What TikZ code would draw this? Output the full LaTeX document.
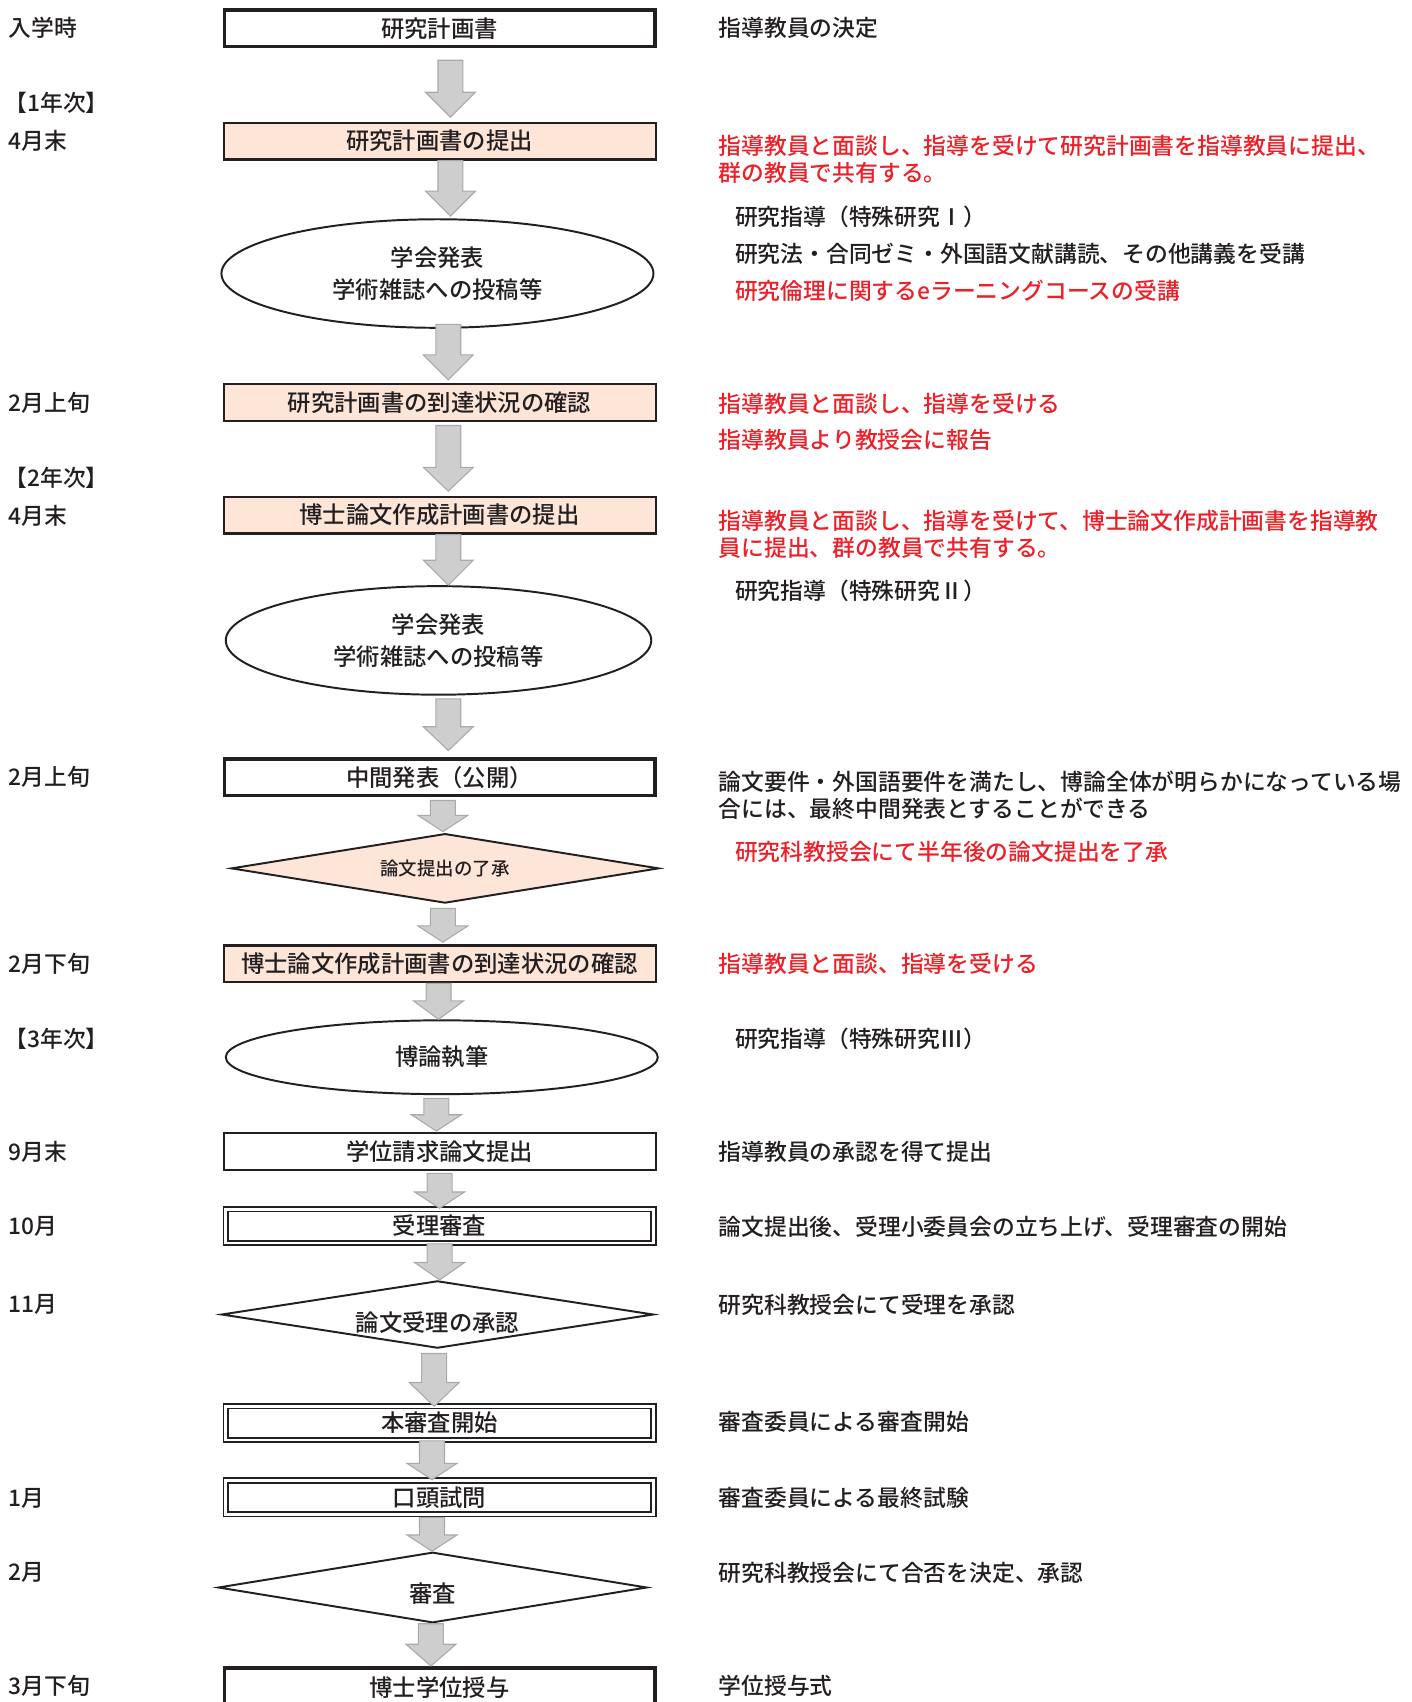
\documentclass[tikz,border=0pt]{standalone}
\usepackage{fontspec}
\setmainfont{Noto Sans CJK JP}[UprightFont=* Medium]
\usetikzlibrary{shapes.geometric,calc}
\definecolor{jred}{RGB}{236,32,40}
\definecolor{peach}{RGB}{253,229,216}
\definecolor{agray}{RGB}{206,206,206}
\definecolor{aline}{RGB}{170,170,170}
\definecolor{ink}{RGB}{35,31,32}
\newcommand\garrow[6]{% from, to, x centre, gap below source, gap above target, head length
  \filldraw[garrowsty] let \p1=(#1.south), \p2=(#2.north),
     \n1={\y1-1pt*(#4)}, \n2={\y2+1pt*(#5)}, \n3={\y2+1pt*(#5)+1pt*(#6)} in
   ({#3pt-11.5pt},\n1) -- ({#3pt+11.5pt},\n1)
   -- ({#3pt+11.5pt},\n3) -- ({#3pt+23pt},\n3)
   -- (#3pt,\n2) -- ({#3pt-23pt},\n3)
   -- ({#3pt-11.5pt},\n3) -- cycle;
}
\begin{document}
\begin{tikzpicture}[x=1pt,y=-1pt,
  every node/.style={text=ink,font=\fontsize{21}{25}\selectfont},
  flowtext/.style={font=\fontsize{21.5}{30}\selectfont,align=center},
  thickbox/.style={draw=ink,line width=3.4pt,fill=white,minimum width=396.6pt,minimum height=33.6pt,inner sep=0pt,flowtext},
  thinbox/.style={draw=ink,line width=2pt,fill=white,minimum width=398pt,minimum height=34pt,inner sep=0pt,flowtext},
  peachbox/.style={thinbox,fill=peach},
  dblbox/.style={draw=ink,double=white,double distance=2.6pt,line width=1.6pt,minimum width=394.2pt,minimum height=31.2pt,inner sep=0pt,flowtext},
  ell/.style={ellipse,draw=ink,line width=1.8pt,fill=white,minimum width=398pt,inner sep=0pt,flowtext},
  dia/.style={diamond,draw=ink,line width=1.8pt,fill=white,aspect=6,inner sep=0pt,minimum width=398pt,minimum height=62pt,flowtext},
  diatext/.style={flowtext,text=ink,inner sep=0pt},
  garrowsty/.style={fill=agray,draw=aline,line width=1pt},
  lab/.style={anchor=west,inner sep=0pt},
  note/.style={anchor=west,inner sep=0pt,align=left},
  rnote/.style={note,text=jred}]
\useasboundingbox (0,0) rectangle (1300,1568);
\fill[white] (0,0) rectangle (1300,1568);

% ---------- left column: dates ----------
\node[lab] (l1) at (8,26) {入学時};
\node[lab] (l2) at (4,95) {【1年次】};
\node[lab] (l3) at (8,130) {4月末};
\node[lab] (l4) at (8,371) {2月上旬};
\node[lab] (l5) at (4,440) {【2年次】};
\node[lab] (l6) at (8,475) {4月末};
\node[lab] (l7) at (8,716) {2月上旬};
\node[lab] (l8) at (8,888) {2月下旬};
\node[lab] (l9) at (4,957) {【3年次】};
\node[lab] (l10) at (8,1061) {9月末};
\node[lab] (l11) at (8,1130) {10月};
\node[lab] (l12) at (8,1202) {11月};
\node[lab] (l13) at (8,1380) {1月};
\node[lab] (l14) at (8,1449) {2月};
\node[lab] (l15) at (8,1553) {3月下旬};

% ---------- flow ----------
\node[thickbox] (b1) at (405,26) {研究計画書};
\node[peachbox] (b2) at (405,130) {研究計画書の提出};
\node[ell,minimum height=100pt] (e1) at (403,252) {学会発表\\学術雑誌への投稿等};
\node[peachbox] (b3) at (405,371) {研究計画書の到達状況の確認};
\node[peachbox] (b4) at (405,474.5) {博士論文作成計画書の提出};
\node[ell,minimum width=392pt,minimum height=100pt] (e2) at (404,590) {学会発表\\学術雑誌への投稿等};
\node[thickbox] (b5) at (405,716) {中間発表（公開）};
\node[dia,fill=peach,minimum width=394pt,minimum height=64pt] (d1) at (410,800) {\fontsize{17}{20}\selectfont 論文提出の了承};
\node[peachbox] (b6) at (405,888) {博士論文作成計画書の到達状況の確認};
\node[ell,minimum height=68pt] (e3) at (407,974) {博論執筆};
\node[thinbox] (b7) at (405,1061) {学位請求論文提出};
\node[dblbox] (b8) at (405,1129.5) {受理審査};
\node[dia,label={[diatext,yshift=-7pt]center:論文受理の承認}] (d2) at (403,1211) {};
\node[dblbox] (b9) at (405,1311) {本審査開始};
\node[dblbox] (b10) at (405,1379.5) {口頭試問};
\node[dia,minimum width=395pt,minimum height=65pt,label={[diatext,yshift=-6pt]center:審査}] (d3) at (398.5,1462.5) {};
\node[thickbox,minimum height=37pt] (b11) at (405,1555) {博士学位授与};

% ---------- block arrows ----------
\garrow{b1}{b2}{415}{11}{4}{23}
\garrow{b2}{e1}{415}{0}{2}{23}
\garrow{e1}{b3}{413}{-4}{3}{23}
\garrow{b3}{b4}{413}{3}{4}{22}
\garrow{b4}{e2}{413}{0}{0}{23}
\garrow{e2}{b5}{413}{3}{6}{22}
\garrow{b5}{d1}{408}{3}{1}{15}
\garrow{d1}{b6}{408}{4}{2}{15}
\garrow{b6}{e3}{404}{0}{0}{17}
\garrow{e3}{b7}{402}{3}{1}{15}
\garrow{b7}{b8}{405}{2}{0}{15}
\garrow{b8}{d2}{405}{0}{0}{16}
\garrow{d2}{b9}{400}{4}{-1}{22}
\garrow{b9}{b10}{398}{0}{0}{15}
\garrow{b10}{d3}{398}{2}{0}{15}
\garrow{d3}{b11}{397}{0}{0}{20}

% ---------- right column: notes ----------
\node[note] (n1) at (662,26) {指導教員の決定};
\node[rnote] (n2) at (662,146.5) {指導教員と面談し、指導を受けて研究計画書を指導教員に提出、\\群の教員で共有する。};
\node[note] (n3) at (677,200) {研究指導（特殊研究Ⅰ）};
\node[note] (n4) at (677,234) {研究法・合同ゼミ・外国語文献講読、その他講義を受講};
\node[rnote] (n5) at (677,268) {研究倫理に関するeラーニングコースの受講};
\node[rnote] (n6) at (662,372) {指導教員と面談し、指導を受ける};
\node[rnote] (n7) at (662,405) {指導教員より教授会に報告};
\node[rnote] (n8) at (662,492) {指導教員と面談し、指導を受けて、博士論文作成計画書を指導教\\員に提出、群の教員で共有する。};
\node[note] (n9) at (677,544) {研究指導（特殊研究Ⅱ）};
\node[note] (n10) at (662,733) {論文要件・外国語要件を満たし、博論全体が明らかになっている場\\合には、最終中間発表とすることができる};
\node[rnote] (n11) at (677,785) {研究科教授会にて半年後の論文提出を了承};
\node[rnote] (n12) at (662,888) {指導教員と面談、指導を受ける};
\node[note] (n13) at (677,957) {研究指導（特殊研究Ⅲ）};
\node[note] (n14) at (662,1061) {指導教員の承認を得て提出};
\node[note] (n15) at (662,1130) {論文提出後、受理小委員会の立ち上げ、受理審査の開始};
\node[note] (n16) at (662,1202) {研究科教授会にて受理を承認};
\node[note] (n17) at (662,1310) {審査委員による審査開始};
\node[note] (n18) at (662,1380) {審査委員による最終試験};
\node[note] (n19) at (662,1449) {研究科教授会にて合否を決定、承認};
\node[note] (n20) at (662,1553) {学位授与式};
\end{tikzpicture}
\end{document}
